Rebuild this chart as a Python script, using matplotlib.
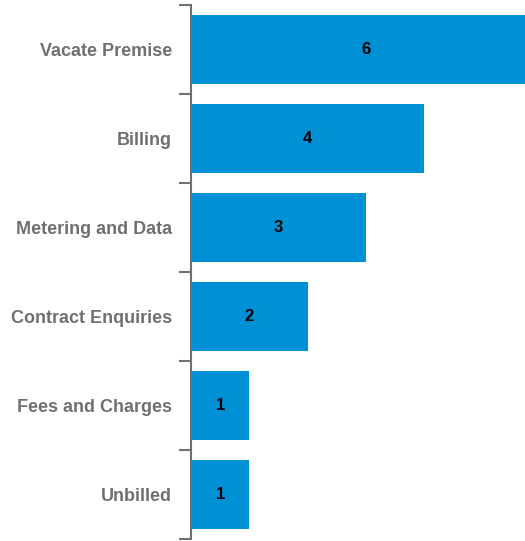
import matplotlib.pyplot as plt
import numpy as np

# Datos del grafico
categorias = ['Vacate Premise', 'Billing', 'Metering and Data',
              'Contract Enquiries', 'Fees and Charges', 'Unbilled']
valores = [6, 4, 3, 2, 1, 1]

plt.rcParams['font.family'] = ['Liberation Sans', 'DejaVu Sans']

fig = plt.figure(figsize=(5.25, 5.41), dpi=100)
ax = fig.add_axes([191 / 525, 2 / 541, 1 - 191 / 525, 534 / 541])

y = np.arange(len(categorias))
barras = ax.barh(y, valores, height=0.77, color='#0090D5')

for b, v in zip(barras, valores):
    ax.text(b.get_width() / 2, b.get_y() + b.get_height() / 2, str(v),
            ha='center', va='center', fontsize=12, fontweight='bold', color='black')

ax.set_ylim(len(categorias) - 0.5, -0.5)
ax.set_xlim(0, 5.73)

ax.set_yticks(y)
ax.set_yticklabels(categorias, fontsize=13, fontweight='bold', color='#707070')
ax.set_yticks(np.arange(-0.5, len(categorias)), minor=True)
ax.tick_params(axis='y', which='major', length=0, pad=13.5)
ax.tick_params(axis='y', which='minor', length=9, width=1.5, color='#707070')

ax.set_xticks([])
for lado in ['top', 'right', 'bottom']:
    ax.spines[lado].set_visible(False)
ax.spines['left'].set_color('#707070')
ax.spines['left'].set_linewidth(1.5)

fig.savefig('out.png', dpi=100)
